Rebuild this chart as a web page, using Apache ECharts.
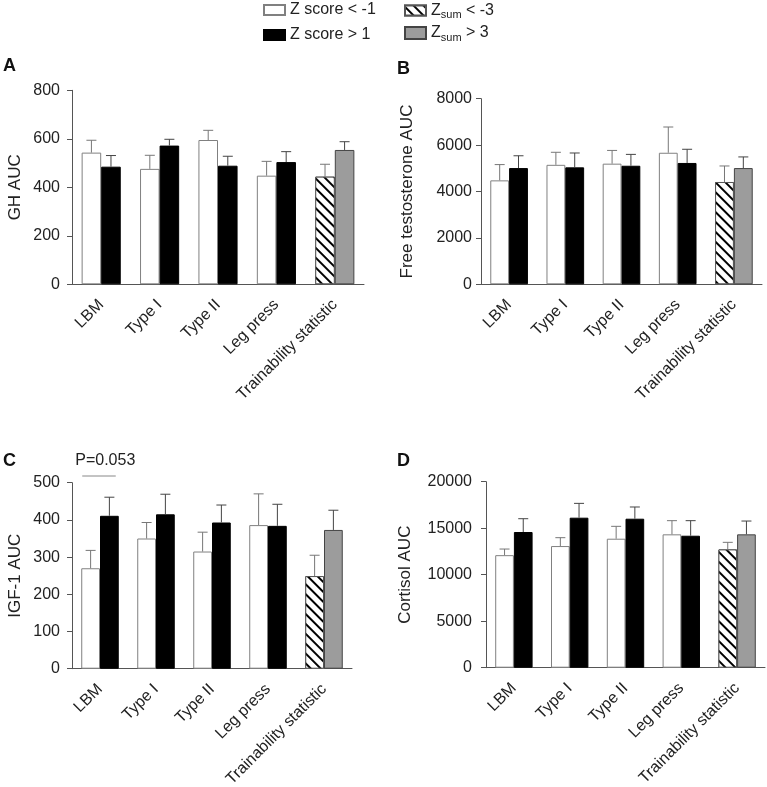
<!DOCTYPE html>
<html>
<head>
<meta charset="utf-8">
<script src="https://cdn.jsdelivr.net/npm/echarts/dist/echarts.min.js"></script>
<style>html,body{margin:0;padding:0;background:#fff;}#c{width:767px;height:787px;}</style>
</head>
<body>
<div id="c"></div>
<script>
// ---- data ----
const categories = ['LBM', 'Type I', 'Type II', 'Leg press', 'Trainability statistic'];
const seriesNames = ['Z score < -1', 'Z score > 1', 'Zsum < -3', 'Zsum > 3'];
const panelLetters = ['A', 'B', 'C', 'D'];
const axisNames = ['GH AUC', 'Free testosterone AUC', 'IGF-1 AUC', 'Cortisol AUC'];
const yMax = [800, 8000, 500, 20000];
const yInterval = [200, 2000, 100, 5000];

// Low group (Z score < -1 for first four, Zsum < -3 for Trainability statistic)
const ghLow = [543, 476, 595, 448, 444];
const ghLowErr = [594, 532, 635, 507, 495];
const ghHigh = [485, 572, 489, 504, 554];
const ghHighErr = [531, 598, 528, 547, 588];

const ftLow = [4480, 5150, 5200, 5670, 4410];
const ftLowErr = [5160, 5690, 5770, 6780, 5100];
const ftHigh = [5010, 5040, 5110, 5230, 5010];
const ftHighErr = [5540, 5660, 5600, 5820, 5490];

const igfLow = [270, 350, 315, 386, 249];
const igfLowErr = [318, 393, 367, 470, 305];
const igfHigh = [411, 415, 393, 384, 373];
const igfHighErr = [461, 469, 440, 442, 426];

const corLow = [12100, 13080, 13870, 14340, 12720];
const corLowErr = [12760, 13980, 15200, 15810, 13480];
const corHigh = [14590, 16130, 16020, 14190, 14340];
const corHighErr = [16020, 17670, 17280, 15810, 15770];

const pAnnotation = 'P=0.053';
const pAnnotationLevel = 518;

const panels = [
  [ghLow, ghLowErr, ghHigh, ghHighErr],
  [ftLow, ftLowErr, ftHigh, ftHighErr],
  [igfLow, igfLowErr, igfHigh, igfHighErr],
  [corLow, corLowErr, corHigh, corHighErr]
];

// ---- layout ----
const grids = [
  {left: 72, top: 90.3, width: 292, height: 194},
  {left: 481, top: 98.7, width: 281, height: 185.6},
  {left: 72, top: 482.7, width: 280, height: 186},
  {left: 486, top: 481.7, width: 279, height: 186}
];
const nameGaps = [48, 65, 48, 72];
const yLabelMargins = [12, 9, 12, 14];
const FONT = 'Liberation Sans, Arial, Helvetica, sans-serif';
const TXT = '#222';
const GAP = 0.33;

const hatch = {
  symbol: 'rect', symbolSize: 1, dashArrayX: [1, 0], dashArrayY: [2, 5],
  rotation: Math.PI / 4, color: '#000', backgroundColor: '#fff'
};
const styles = {
  'Z score < -1': {color: '#fff', borderColor: '#808080', borderWidth: 1},
  'Z score > 1': {color: '#000', borderColor: '#000', borderWidth: 1},
  'Zsum < -3': {color: '#fff', borderColor: '#555', borderWidth: 1, decal: hatch},
  'Zsum > 3': {color: '#9c9c9c', borderColor: '#444', borderWidth: 1}
};

const n = categories.length;
const grid = [], xAxis = [], yAxis = [], series = [];
panels.forEach((p, g) => {
  grid.push(Object.assign({containLabel: false, outerBoundsMode: 'none'}, grids[g]));
  xAxis.push({
    type: 'category', gridIndex: g, data: categories,
    axisLine: {lineStyle: {color: '#555', width: 1}},
    axisTick: {alignWithLabel: true, length: 5, lineStyle: {color: '#555'}},
    axisLabel: {rotate: 45, interval: 0, fontSize: 16, fontFamily: FONT, color: TXT, margin: 18}
  });
  yAxis.push({
    type: 'value', gridIndex: g, min: 0, max: yMax[g], interval: yInterval[g],
    name: axisNames[g], nameLocation: 'middle', nameGap: nameGaps[g],
    nameTextStyle: {fontSize: 17, fontFamily: FONT, color: TXT},
    axisLine: {show: true, lineStyle: {color: '#555', width: 1}},
    axisTick: {show: true, length: 5, lineStyle: {color: '#555'}},
    splitLine: {show: false},
    axisLabel: {fontSize: 16, fontFamily: FONT, color: TXT, margin: yLabelMargins[g],
      formatter: function (v) { return String(v); }}
  });
  const [low, lowErr, high, highErr] = p;
  const lowMain = low.map((v, i) => i < n - 1 ? v : '-');
  const lowSum = low.map((v, i) => i === n - 1 ? v : '-');
  const highMain = high.map((v, i) => i < n - 1 ? v : '-');
  const highSum = high.map((v, i) => i === n - 1 ? v : '-');
  const common = {type: 'bar', xAxisIndex: g, yAxisIndex: g, barGap: '0%', barCategoryGap: (GAP * 100) + '%', animation: false};
  series.push(Object.assign({name: seriesNames[0], stack: 'low' + g, data: lowMain, itemStyle: styles[seriesNames[0]]}, common));
  series.push(Object.assign({name: seriesNames[2], stack: 'low' + g, data: lowSum, itemStyle: styles[seriesNames[2]]}, common));
  series.push(Object.assign({name: seriesNames[1], stack: 'high' + g, data: highMain, itemStyle: styles[seriesNames[1]]}, common));
  series.push(Object.assign({name: seriesNames[3], stack: 'high' + g, data: highSum, itemStyle: styles[seriesNames[3]]}, common));
  const errData = [];
  low.forEach((v, i) => errData.push([i, v, lowErr[i], -1]));
  high.forEach((v, i) => errData.push([i, v, highErr[i], 1]));
  series.push({
    type: 'custom', xAxisIndex: g, yAxisIndex: g, animation: false, z: 5,
    encode: {x: 0, y: [1, 2]}, data: errData,
    renderItem: function (params, api) {
      const c = api.value(0), top = api.value(1), err = api.value(2), side = api.value(3);
      const p1 = api.coord([c, top]);
      const p2 = api.coord([c, err]);
      const band = api.size([1, 0])[0];
      const x = p1[0] + side * band * (1 - GAP) / 4;
      const st = {stroke: side < 0 ? '#777' : '#444', lineWidth: 1};
      return {type: 'group', children: [
        {type: 'line', shape: {x1: x, y1: p1[1], x2: x, y2: p2[1]}, style: st},
        {type: 'line', shape: {x1: x - 5, y1: p2[1], x2: x + 5, y2: p2[1]}, style: st}
      ]};
    }
  });
});

const legendText = {
  fontSize: 16, fontFamily: FONT, color: TXT,
  rich: {
    n: {fontSize: 16, fontFamily: FONT, color: TXT},
    s: {fontSize: 11, fontFamily: FONT, color: TXT, padding: [9, 0, 0, 0]}
  }
};
const fmt = function (name) {
  if (name.indexOf('Zsum') === 0) return '{n|Z}{s|sum}{n|' + name.slice(4) + '}';
  return name;
};
const legendPos = [[263, 2], [263, 27], [404, 2.5], [404, 25]];
const legends = seriesNames.map((nm, k) => ({
  orient: 'vertical', left: legendPos[k][0], top: legendPos[k][1], padding: 0,
  itemWidth: 21, itemHeight: k === 3 ? 12 : 10, data: [nm],
  textStyle: legendText, formatter: fmt, selectedMode: false, icon: 'rect'
}));

const graphic = panelLetters.map((L, g) => ({
  type: 'text', left: g % 2 === 0 ? 3 : 397, top: g < 2 ? (g === 0 ? 57 : 60) : 452,
  style: {text: L, fontSize: 18, fontWeight: 'bold', fontFamily: FONT, fill: '#111'}
}));

const chart = echarts.init(document.getElementById('c'), null, {renderer: 'canvas'});
chart.setOption({
  animation: false,
  backgroundColor: '#fff',
  grid: grid, xAxis: xAxis, yAxis: yAxis, series: series,
  legend: legends,
  graphic: graphic
});

// P-value annotation above LBM in panel C
const cc = chart.convertToPixel({gridIndex: 2}, [0, pAnnotationLevel]);
const pBand = grids[2].width / n;
const half = pBand * (1 - GAP) / 2;
chart.setOption({
  graphic: graphic.concat([
    {type: 'line', shape: {x1: cc[0] - half + 1, y1: cc[1], x2: cc[0] + half - 3, y2: cc[1]}, style: {stroke: '#888', lineWidth: 1}},
    {type: 'text', left: cc[0] - half - 6, top: cc[1] - 23, style: {text: pAnnotation, fontSize: 16, fontFamily: FONT, fill: TXT}}
  ])
});
</script>
</body>
</html>
